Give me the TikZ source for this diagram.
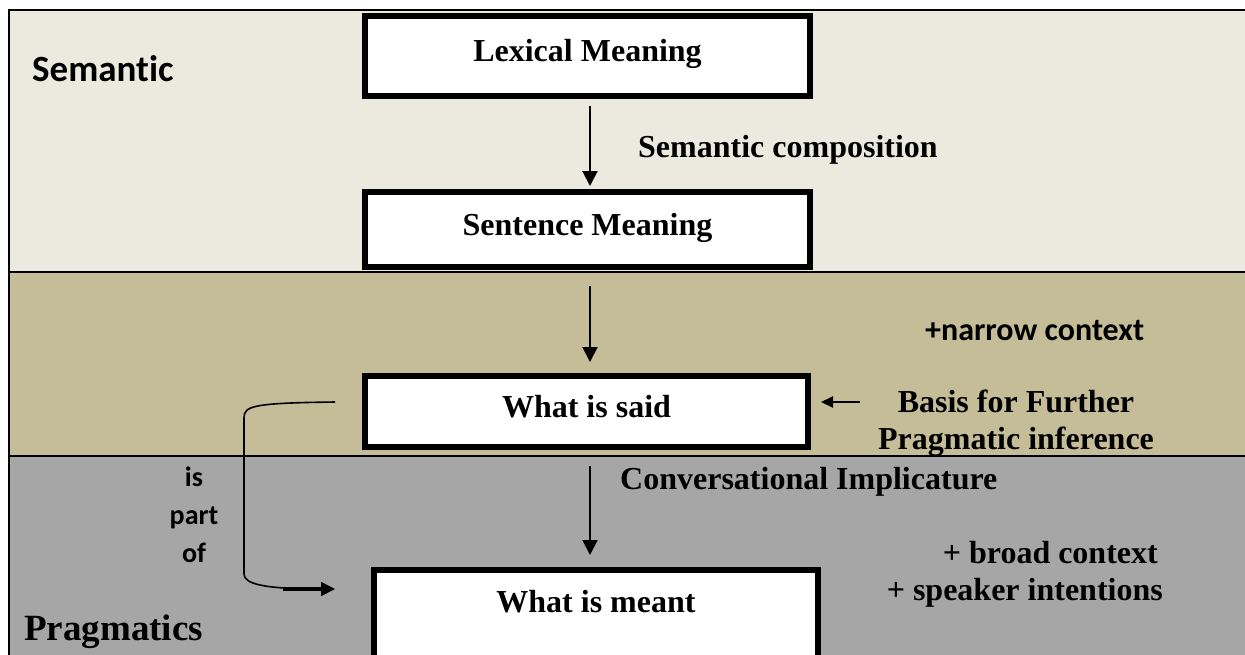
\documentclass[tikz,border=0pt]{standalone}
\usepackage{fontspec}
\setmainfont{Liberation Serif}
\newfontfamily\calibrifont[Ligatures=NoCommon]{Carlito}
\usetikzlibrary{positioning,arrows.meta}
\definecolor{semband}{RGB}{236,234,223}
\definecolor{ctxband}{RGB}{196,189,151}
\definecolor{pragband}{RGB}{166,166,166}

\tikzset{
  meaningbox/.style={draw, line width=6pt, fill=white, inner sep=0pt, text height=24pt, text depth=13pt,
    font=\fontsize{32}{37}\selectfont\bfseries},
  serifnote/.style={inner sep=0pt, font=\fontsize{32}{37}\selectfont\bfseries},
  sansnote/.style={inner sep=0pt, font=\calibrifont\fontsize{32}{37}\selectfont\bfseries},
  flow/.style={-{Triangle[length=15pt,width=15pt]}, line width=2pt},
  smallflow/.style={-{Triangle[length=12pt,width=11pt]}, line width=2pt},
}

\begin{document}
\begin{tikzpicture}[x=1pt, y=-1pt]
  \useasboundingbox (0,0) rectangle (1245,654);
  \clip (0,0) rectangle (1245,654);

  % bands
  \fill[semband] (9,10) rectangle (1270,272);
  \fill[ctxband] (9,272) rectangle (1270,456);
  \fill[pragband] (9,456) rectangle (1270,680);
  \draw[line width=2pt] (1270,10) -- (9,10) -- (9,680);
  \draw[line width=2pt] (9,272) -- (1270,272);
  \draw[line width=2pt] (9,456) -- (1270,456);

  % meaning boxes
  \node[meaningbox, minimum width=445pt, minimum height=80pt] (lexical) at (587.5,56) {Lexical Meaning};
  \node[meaningbox, minimum width=445pt, minimum height=75pt, below=90pt of lexical] (sentence) {Sentence Meaning};
  \node[meaningbox, minimum width=443pt, minimum height=71pt] (said) at (586.5,411.5) {What is said};
  \node[meaningbox, minimum width=444pt, minimum height=89pt, text depth=29pt] (meant) at (596,614.5) {What is meant};

  % side labels
  \node[sansnote, font=\calibrifont\fontsize{37}{40}\selectfont\bfseries, anchor=base west] (semantic) at (32,81) {Semantic};
  \node[serifnote, font=\fontsize{37}{40}\selectfont\bfseries, anchor=base west] (pragmatics) at (24,640) {Pragmatics};
  \node[serifnote, anchor=base west] (compose) at (638,157) {Semantic composition};
  \node[sansnote, anchor=base west] (narrow) at (925,340) {+narrow context};
  \node[serifnote, align=center, anchor=north] (basis) at (1016,390) {Basis for Further\\Pragmatic inference};
  \node[serifnote, anchor=base west] (implic) at (620,489) {Conversational Implicature};
  \node[serifnote, anchor=base east] (broad) at (1158,563) {+ broad context};
  \node[serifnote, anchor=base east] (speaker) at (1163,600) {+ speaker intentions};
  \node[sansnote, font=\calibrifont\fontsize{28}{38}\selectfont\bfseries, align=center, anchor=north] (partof) at (194,467) {is\\part\\of};

  % arrows
  \coordinate (axis) at (590,0);
  \draw[flow] ([yshift=-7pt]lexical.south -| axis) -- ([yshift=3pt]sentence.north -| axis);
  \draw[flow] ([yshift=-16pt]sentence.south -| axis) -- ([yshift=11pt]said.north -| axis);
  \draw[flow] ([yshift=-16pt]said.south -| axis) -- ([yshift=12pt]meant.north -| axis);
  \draw[smallflow] ([shift={(49pt,9.5pt)}]said.east) -- ([shift={(10pt,9.5pt)}]said.east);

  % is part of
  \coordinate (loopstart) at ([shift={(-27pt,9.5pt)}]said.west);
  \coordinate (loopend) at ([shift={(-36pt,25.5pt)}]meant.west);
  \coordinate (stub) at (283,589);
  \draw[line width=1.6pt, -{Triangle[length=14pt,width=14pt]}] (loopstart) .. controls (252,403) and (244,406) .. (244,418)
    -- (244,574) .. controls (244,584) and (264,589) .. (loopend);
  \draw[line width=3.5pt, shorten >=12pt] (stub) -- (loopend);
\end{tikzpicture}
\end{document}
